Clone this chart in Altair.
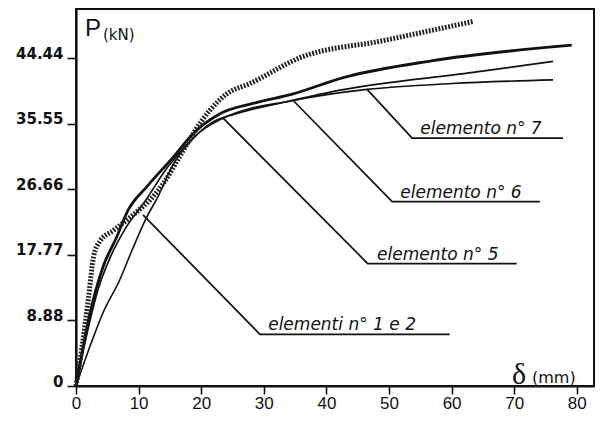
import altair as alt
import pandas as pd

# ---- data ----
dot_x = [0, 1.0, 2.0, 2.8, 3.8, 6.0, 9.7, 11.8, 14.0, 16.5, 19.8, 21.4, 24.1, 27.8, 35.8, 49.0, 63.4]
dot_y = [0, 5.5, 12.0, 17.5, 19.6, 21.1, 23.6, 25.2, 27.5, 31.0, 35.6, 37.4, 39.6, 41.0, 44.5, 46.8, 49.4]

thick_x = [0, 2.0, 4.3, 6.5, 8.3, 11.3, 15.5, 18.7, 23.0, 28.3, 34.7, 42.7, 57.0, 79.2]
thick_y = [0, 9.0, 16.1, 20.2, 23.8, 27.0, 31.0, 34.2, 36.9, 38.3, 39.6, 41.8, 44.1, 46.2]

mid_x = [0, 2.0, 3.5, 5.5, 8.0, 11.0, 14.5, 18.0, 21.5, 26.0, 34.0, 42.2, 63.4, 76.2]
mid_y = [0, 8.0, 13.0, 17.5, 21.5, 25.0, 29.5, 33.0, 35.6, 37.0, 38.6, 40.1, 42.5, 44.0]

low_x = [0, 2.5, 4.3, 7.0, 9.0, 11.3, 13.0, 15.5, 19.0, 23.5, 34.7, 46.5, 60.0, 76.2]
low_y = [0, 6.0, 9.9, 14.4, 18.5, 22.9, 25.5, 30.0, 33.8, 36.3, 38.7, 40.2, 41.0, 41.5]

# labels with leader lines: start on curve -> knee -> end of underline
lab_text = ["elemento  n° 7", "elemento  n° 6", "elemento  n° 5", "elementi  n° 1 e 2"]
lab_x0 = [46.5, 34.7, 23.5, 10.7]
lab_y0 = [40.2, 38.7, 36.3, 23.2]
lab_kx = [53.7, 50.5, 46.6, 29.4]
lab_ky = [33.6, 25.0, 16.6, 7.0]
lab_ex = [77.8, 74.1, 70.4, 59.7]
lab_tx = [55.0, 51.8, 48.1, 30.7]

x_ticks = [0, 10, 20, 30, 40, 50, 60, 70, 80]
y_ticks = [0, 4.44, 8.88, 13.32, 17.77, 22.2, 26.66, 31.1, 35.55, 40.0, 44.44, 48.88]

INK = "#111111"

curves = pd.DataFrame(
    [{"s": "dot", "i": i, "x": a, "y": b} for i, (a, b) in enumerate(zip(dot_x, dot_y))]
    + [{"s": "thick", "i": i, "x": a, "y": b} for i, (a, b) in enumerate(zip(thick_x, thick_y))]
    + [{"s": "mid", "i": i, "x": a, "y": b} for i, (a, b) in enumerate(zip(mid_x, mid_y))]
    + [{"s": "low", "i": i, "x": a, "y": b} for i, (a, b) in enumerate(zip(low_x, low_y))]
)

lead_rows = []
for k, t in enumerate(lab_text):
    lead_rows.append({"lab": t, "i": 0, "x": lab_x0[k], "y": lab_y0[k]})
    lead_rows.append({"lab": t, "i": 1, "x": lab_kx[k], "y": lab_ky[k]})
    lead_rows.append({"lab": t, "i": 2, "x": lab_ex[k], "y": lab_ky[k]})
leads = pd.DataFrame(lead_rows)
texts = pd.DataFrame({"lab": lab_text, "x": lab_tx, "y": lab_ky})

xs = alt.Scale(domain=[0, 82.75], nice=False, zero=False)
ys = alt.Scale(domain=[0, 51.1], nice=False, zero=False)

x_axis = alt.Axis(
    values=x_ticks, title=None, grid=False, tickSize=8, tickWidth=1.6,
    tickColor=INK, domainColor=INK, domainWidth=2.2,
    labelFont="Liberation Sans", labelFontSize=17, labelColor=INK,
    labelPadding=1, labelFlush=False,
)
y_axis = alt.Axis(
    values=y_ticks, title=None, grid=False, tickSize=9, tickWidth=1.6,
    tickColor=INK, domainColor=INK, domainWidth=2.2,
    labelFont="DejaVu Sans", labelFontWeight="bold", labelFontSize=15,
    labelColor=INK, labelPadding=4, labelBaseline="alphabetic", labelFlush=False,
    labelExpr="round(datum.value / 4.44) % 2 == 0 ? (datum.value == 0 ? '0' : format(datum.value, '.2f')) : ''",
)

base = alt.Chart(curves).encode(
    x=alt.X("x:Q", scale=xs, axis=x_axis),
    y=alt.Y("y:Q", scale=ys, axis=y_axis),
    order="i:Q",
)

dotted = base.transform_filter(alt.datum.s == "dot").mark_line(
    color="#1e1e1e", strokeWidth=5, strokeDash=[1.8, 1.5], interpolate="monotone"
)
thick = base.transform_filter(alt.datum.s == "thick").mark_line(
    color=INK, strokeWidth=2.8, interpolate="monotone"
)
mid = base.transform_filter(alt.datum.s == "mid").mark_line(
    color=INK, strokeWidth=1.7, interpolate="monotone"
)
low = base.transform_filter(alt.datum.s == "low").mark_line(
    color=INK, strokeWidth=1.6, interpolate="monotone"
)

leader = alt.Chart(leads).mark_line(color=INK, strokeWidth=1.7).encode(
    x=alt.X("x:Q", scale=xs), y=alt.Y("y:Q", scale=ys), detail="lab:N", order="i:Q"
)
label = alt.Chart(texts).mark_text(
    align="left", baseline="alphabetic", dy=-4, font="DejaVu Sans", fontStyle="italic",
    fontSize=17, color=INK
).encode(x=alt.X("x:Q", scale=xs), y=alt.Y("y:Q", scale=ys), text="lab:N")

ytitle_p = alt.Chart(pd.DataFrame({"t": ["P"]})).mark_text(
    align="left", baseline="alphabetic", font="Liberation Sans", fontSize=24, color=INK
).encode(x=alt.value(9), y=alt.value(27), text="t:N")
ytitle_u = alt.Chart(pd.DataFrame({"t": ["(kN)"]})).mark_text(
    align="left", baseline="alphabetic", font="DejaVu Sans", fontSize=15, color=INK
).encode(x=alt.value(27), y=alt.value(31), text="t:N")
xtitle_d = alt.Chart(pd.DataFrame({"t": ["δ"]})).mark_text(
    align="left", baseline="alphabetic", font="Liberation Serif", fontSize=30, color=INK
).encode(x=alt.value(436), y=alt.value(375), text="t:N")
xtitle_u = alt.Chart(pd.DataFrame({"t": ["(mm)"]})).mark_text(
    align="left", baseline="alphabetic", font="DejaVu Sans", fontSize=16, color=INK
).encode(x=alt.value(456), y=alt.value(374), text="t:N")

chart = alt.layer(
    low, mid, thick, dotted, leader, label, ytitle_p, ytitle_u, xtitle_d, xtitle_u
).properties(
    width=518, height=377,
    autosize=alt.AutoSizeParams(type="none"),
    padding={"left": 68, "top": 1, "right": 1, "bottom": 29},
    background="white",
).configure_view(stroke=INK, strokeWidth=2)

chart.save("out.html", embed_options={"renderer": "svg", "actions": False})
